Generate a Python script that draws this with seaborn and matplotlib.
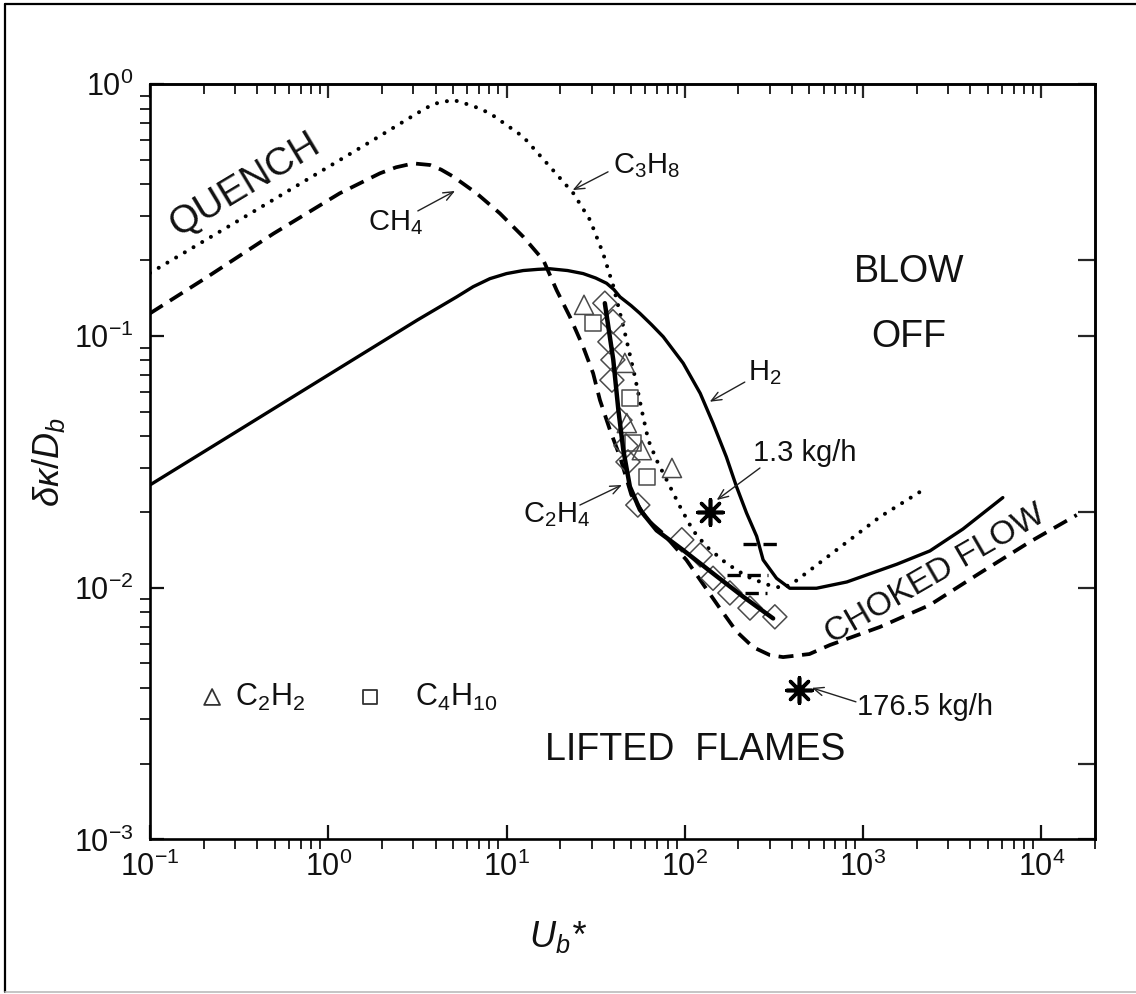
import numpy as np
import pandas as pd
import matplotlib
matplotlib.use("Agg")
import matplotlib.pyplot as plt
import seaborn as sns
from matplotlib.ticker import LogLocator, NullFormatter
from matplotlib.lines import Line2D

# ---------------- data ----------------
h2_x = [0.1, 0.316, 1.0, 3.16, 5.25, 6.5, 8.07, 10.0, 12.4, 15.0, 17.5, 22.0, 26.9, 31.6,
        36.4, 40.0, 43.3, 50.0, 56.0, 65.0, 75.7, 97.9, 122, 144, 171, 195, 222, 253, 275,
        327, 388, 548, 811, 1549, 2371, 3631, 6081]
h2_y = [0.0256, 0.0423, 0.070, 0.1157, 0.143, 0.157, 0.169, 0.177, 0.182, 0.184, 0.185,
        0.182, 0.177, 0.170, 0.162, 0.153, 0.143, 0.132, 0.123, 0.111, 0.0993, 0.078, 0.0592,
        0.045, 0.0331, 0.0252, 0.0198, 0.016, 0.0129, 0.0109, 0.00995, 0.00995, 0.01054,
        0.0124, 0.0140, 0.0171, 0.0228]

c3h8_x = [0.1, 0.32, 0.938, 1.79, 3.13, 3.88, 5.02, 6.5, 8.07, 12.4, 17.5, 23.7, 29.4, 34.8,
          39.7, 46.1, 52.5, 57.3, 62.4, 69.5, 79.1, 94.0, 111, 132, 171, 222, 288, 356, 417,
          1242, 2080]
c3h8_y = [0.178, 0.29, 0.457, 0.601, 0.765, 0.835, 0.867, 0.82, 0.767, 0.619, 0.471, 0.369,
          0.289, 0.213, 0.158, 0.103, 0.0689, 0.0508, 0.0386, 0.0321, 0.0268, 0.021, 0.0169,
          0.0146, 0.0125, 0.0111, 0.0103, 0.00995, 0.0106, 0.0191, 0.024]

ch4_x = [0.1, 0.208, 0.492, 1.16, 1.95, 2.4, 3.0, 3.72, 4.3, 5.02, 6.79, 9.18, 12.4, 16.1,
         19.1, 22.7, 26.9, 30.6, 33.4, 38.0, 43.3, 50.1, 61.7, 75.7, 102, 127, 157, 195, 242,
         300, 356, 500, 652, 1242, 2371, 4519, 8610, 15800]
ch4_y = [0.123, 0.171, 0.255, 0.369, 0.443, 0.468, 0.485, 0.478, 0.458, 0.430, 0.369, 0.307,
         0.248, 0.200, 0.152, 0.119, 0.0906, 0.0711, 0.0557, 0.0424, 0.0331, 0.0234, 0.0186,
         0.0164, 0.0129, 0.0103, 0.0083, 0.0067, 0.0058, 0.0054, 0.0053, 0.00545, 0.00592,
         0.00698, 0.00854, 0.01143, 0.0152, 0.01945]

c2h4_x = [35.6, 39.7, 42.4, 45.2, 49.2, 56.0, 69.5, 97.9, 151, 213, 313]
c2h4_y = [0.135, 0.0804, 0.0508, 0.0352, 0.0252, 0.0204, 0.0169, 0.0141, 0.0111, 0.0092, 0.00755]

c2h4_pts_x = [35.6, 39.5, 38.0, 39.5, 39.0, 43.3, 46.8, 48.0, 54.5, 96.2, 122, 144, 179, 232, 320]
c2h4_pts_y = [0.135, 0.114, 0.0948, 0.0804, 0.0668, 0.0463, 0.0366, 0.0316, 0.0213, 0.0155,
              0.0135, 0.0109, 0.00953, 0.0083, 0.00766]

c2h2_x = [27.2, 46.1, 47.3, 57.4, 84.7]
c2h2_y = [0.133, 0.0782, 0.0451, 0.0352, 0.0299]

c4h10_x = [30.5, 49.2, 51.2, 61.2]
c4h10_y = [0.113, 0.0568, 0.0376, 0.0275]

star_x = [138, 438]
star_y = [0.020, 0.00392]

# short horizontal dashed marks near the minimum
seg_y = [0.0149, 0.0112, 0.00953]
seg_x0 = [212, 172, 217]
seg_x1 = [329, 292, 288]

# ---------------- style ----------------
sns.set_theme(style="ticks")
plt.rcParams["font.family"] = ["Liberation Sans", "DejaVu Sans"]
plt.rcParams["mathtext.fontset"] = "custom"
plt.rcParams["mathtext.rm"] = "Liberation Sans"
plt.rcParams["mathtext.it"] = "Liberation Sans:italic"
plt.rcParams["mathtext.bf"] = "Liberation Sans:bold"

INK = "#111111"
W, H = 1136, 994
fig = plt.figure(figsize=(W / 100, H / 100), dpi=100)
ax = fig.add_axes([150 / W, 1 - 839.4 / H, 945 / W, 755.1 / H])
ax.set_xscale("log")
ax.set_yscale("log")

dotted = (0, (0.01, 2.5))
dashed = (0, (4.0, 2.3))

sns.lineplot(x=h2_x, y=h2_y, sort=False, estimator=None, ax=ax, color="black", lw=2.4)
sns.lineplot(x=c3h8_x, y=c3h8_y, sort=False, estimator=None, ax=ax, color="black", lw=2.9,
             linestyle=dotted, dash_capstyle="round")
sns.lineplot(x=ch4_x, y=ch4_y, sort=False, estimator=None, ax=ax, color="black", lw=2.7,
             linestyle=dashed)

for yv, a, b in zip(seg_y, seg_x0, seg_x1):
    sns.lineplot(x=[a, b], y=[yv, yv], sort=False, estimator=None, ax=ax, color="black",
                 lw=2.4, linestyle=(0, (4.0, 2.0)))

sns.scatterplot(x=c2h4_pts_x, y=c2h4_pts_y, ax=ax, marker="D", s=150, facecolors="none",
                edgecolor="#4a4a4a", linewidth=1.1, zorder=3)
sns.scatterplot(x=c2h2_x, y=c2h2_y, ax=ax, marker="^", s=190, facecolors="none",
                edgecolor="#4a4a4a", linewidth=1.1, zorder=3)
sns.scatterplot(x=c4h10_x, y=c4h10_y, ax=ax, marker="s", s=130, facecolors="none",
                edgecolor="#4a4a4a", linewidth=1.1, zorder=3)
sns.lineplot(x=c2h4_x, y=c2h4_y, sort=False, estimator=None, ax=ax, color="black", lw=3.2,
             zorder=4)
sns.scatterplot(x=star_x, y=star_y, ax=ax, marker=(8, 2, 0), s=330, color="black",
                linewidth=2.6, zorder=5)

ax.set_xlim(0.1, 2e4)
ax.set_ylim(1e-3, 1)

# ---------------- ticks & spines ----------------
for axis in (ax.xaxis, ax.yaxis):
    axis.set_major_locator(LogLocator(base=10, numticks=12))
    axis.set_minor_locator(LogLocator(base=10, subs=np.arange(2, 10), numticks=100))
    axis.set_minor_formatter(NullFormatter())
ax.tick_params(which="major", direction="in", length=10, width=1.6, labelsize=22,
               colors=INK, top=False, right=False)
ax.tick_params(which="minor", direction="out", length=7, width=1.4, top=False, right=False)
ax.tick_params(axis="x", which="major", pad=9)
ax.tick_params(axis="y", which="major", pad=12)
for sp in ax.spines.values():
    sp.set_linewidth(1.9)
    sp.set_color("black")

secx = ax.secondary_xaxis("top")
secx.xaxis.set_major_locator(LogLocator(base=10, numticks=12))
secx.xaxis.set_minor_locator(LogLocator(base=10, subs=np.arange(2, 10), numticks=100))
secx.xaxis.set_major_formatter(NullFormatter())
secx.xaxis.set_minor_formatter(NullFormatter())
secx.tick_params(which="major", direction="in", length=10, width=1.6)
secx.tick_params(which="minor", direction="in", length=7, width=1.4)
secx.spines["top"].set_linewidth(1.9)

secy = ax.secondary_yaxis("right")
secy.yaxis.set_major_locator(LogLocator(base=10, numticks=12))
secy.yaxis.set_minor_locator(LogLocator(base=10, subs=[2.0], numticks=100))
secy.yaxis.set_major_formatter(NullFormatter())
secy.yaxis.set_minor_formatter(NullFormatter())
secy.tick_params(which="major", direction="in", length=12, width=1.6)
secy.tick_params(which="minor", direction="in", length=12, width=1.6)
secy.spines["right"].set_linewidth(1.9)

ax.set_xlabel("$U_b$*", fontsize=26, fontstyle="italic", color=INK)
ax.xaxis.set_label_coords(0.432, -0.105)
ax.set_ylabel(r"$\delta\kappa/D_b$", fontsize=26, color=INK)
ax.yaxis.set_label_coords(-0.088, 0.5)

# ---------------- annotations ----------------
arrow = dict(arrowstyle="->,head_length=0.6,head_width=0.25", color="#222222", lw=1.0,
             shrinkA=0, shrinkB=0)
ax.annotate("", xy=(23.5, 0.380), xytext=(37.1, 0.449), arrowprops=arrow)
ax.text(39.5, 0.475, r"$\mathregular{C_3H_8}$", fontsize=21, color=INK, ha="left", va="center")

ax.annotate("", xy=(5.14, 0.377), xytext=(3.18, 0.314), arrowprops=arrow)
ax.text(2.37, 0.283, r"$\mathregular{CH_4}$", fontsize=21, color=INK, ha="center", va="center")

ax.annotate("", xy=(138, 0.0548), xytext=(217, 0.0656), arrowprops=arrow)
ax.text(281, 0.0718, r"$\mathregular{H_2}$", fontsize=21, color=INK, ha="center", va="center")

ax.annotate("", xy=(151, 0.0223), xytext=(264, 0.0299), arrowprops=arrow)
ax.text(472, 0.0343, "1.3 kg/h", fontsize=21, color=INK, ha="center", va="center")

ax.annotate("", xy=(44.4, 0.0256), xytext=(25.8, 0.0213), arrowprops=arrow)
ax.text(19.2, 0.0195, r"$\mathregular{C_2H_4}$", fontsize=21, color=INK, ha="center",
        va="center")

ax.annotate("", xy=(516, 0.0040), xytext=(912, 0.00352), arrowprops=arrow)
ax.text(2223, 0.00336, "176.5 kg/h", fontsize=21, color=INK, ha="center", va="center")

ax.text(0.341, 0.398, "QUENCH", fontsize=28, color=INK, rotation=31,
        ha="center", va="center", rotation_mode="anchor")
ax.text(1807, 0.1795, "BLOW", fontsize=27, color=INK, ha="center", va="center")
ax.text(1807, 0.099, "OFF", fontsize=27, color=INK, ha="center", va="center")
ax.text(114, 0.00227, "LIFTED  FLAMES", fontsize=27, color=INK, ha="center", va="center")
ax.text(2530, 0.01125, "CHOKED FLOW", fontsize=24, color=INK, rotation=30,
        ha="center", va="center", rotation_mode="anchor")

# legend-like labels
sns.scatterplot(x=[0.223], y=[0.00368], ax=ax, marker="^", s=130, facecolors="none",
                edgecolor="#333333", linewidth=1.3, zorder=3)
ax.text(0.300, 0.00368, r"$\mathregular{C_2H_2}$", fontsize=22, color=INK, ha="left",
        va="center")
sns.scatterplot(x=[1.71], y=[0.00368], ax=ax, marker="s", s=110, facecolors="none",
                edgecolor="#333333", linewidth=1.3, zorder=3)
ax.text(3.06, 0.00368, r"$\mathregular{C_4H_{10}}$", fontsize=22, color=INK, ha="left",
        va="center")

# outer frame of the picture
fig.add_artist(Line2D([5 / W, 5 / W], [1 - 4 / H, 1 - 992 / H], color="black", lw=1.6))
fig.add_artist(Line2D([5 / W, 1.0], [1 - 4 / H, 1 - 4 / H], color="black", lw=1.6))
fig.add_artist(Line2D([5 / W, 1.0], [1 - 992 / H, 1 - 992 / H], color="#bbbbbb", lw=1.2))

fig.savefig("out.png", dpi=100)
